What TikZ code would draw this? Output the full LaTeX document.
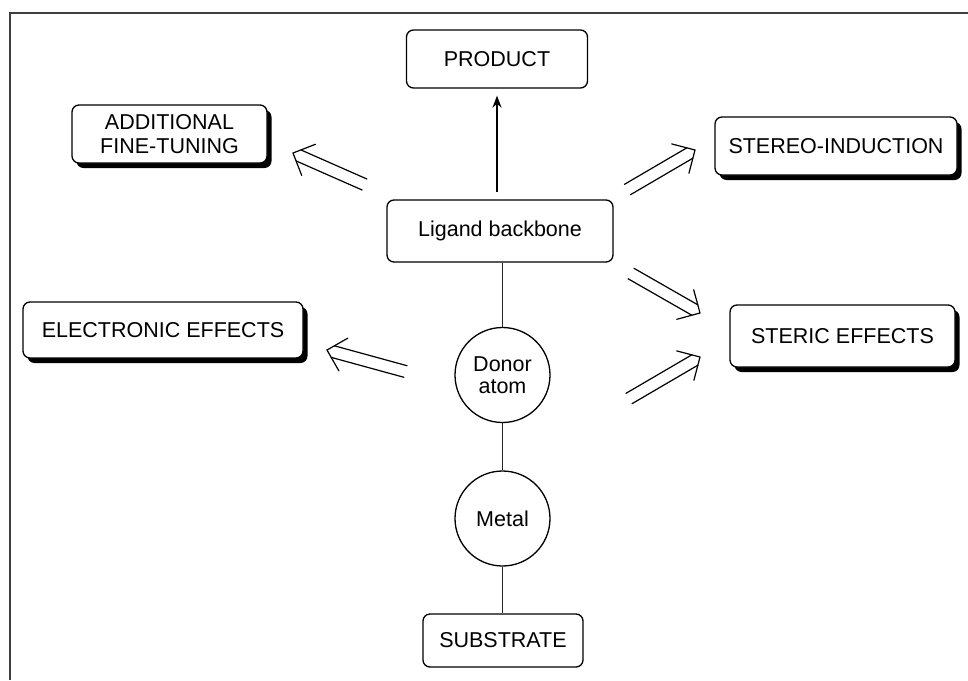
\documentclass[tikz,border=0pt]{standalone}
\usepackage{fontspec}
\setmainfont{Liberation Sans}
\usetikzlibrary{calc,shadows,arrows.meta}
\newcommand\dblarr[2]{%
  \coordinate (da-h) at ($(#2)!6pt!(#1)$);
  \coordinate (da-b) at ($(#2)!17pt!(#1)$);
  \draw[conn] ($(#1)!6pt!90:(#2)$) -- ($(da-h)!6pt!-90:(#1)$);
  \draw[conn] ($(#1)!6pt!-90:(#2)$) -- ($(da-h)!6pt!90:(#1)$);
  \draw[conn] ($(da-b)!17pt!90:(#2)$) -- (#2) -- ($(da-b)!17pt!-90:(#2)$);
}
\begin{document}
\begin{tikzpicture}[x=1pt,y=-1pt,
  every node/.style={font=\fontsize{21.5}{24}\selectfont, text=black},
  box/.style={draw, rounded corners=7pt, line width=1.3pt, fill=white, align=center, inner sep=0pt},
  sbox/.style={box, general shadow={fill=black, shadow xshift=4.5pt, shadow yshift=-5pt}},
  atom/.style={draw, circle, line width=1.3pt, fill=white, align=center, inner sep=0pt, minimum size=95pt},
  conn/.style={line width=1.2pt, line cap=round, line join=miter},
  vline/.style={line width=1.2pt, black!85}
]
\useasboundingbox (0,0) rectangle (968,680);
\draw[line width=2pt, black!75] (9.5,680) -- (9.5,13) -- (968,13);

\node[box, minimum width=181pt, minimum height=58pt] (prod) at (497,59) {PRODUCT};
\node[sbox, minimum width=195pt, minimum height=58pt] (add) at (169.5,134) {ADDITIONAL\\FINE-TUNING};
\node[sbox, minimum width=242pt, minimum height=58pt] (ster) at (836,146) {STEREO-INDUCTION};
\node[box, minimum width=226pt, minimum height=62pt] (lig) at (500,231) {Ligand backbone};
\node[sbox, minimum width=280pt, minimum height=56pt] (elec) at (163,330) {ELECTRONIC EFFECTS};
\node[sbox, minimum width=225pt, minimum height=62pt] (steric) at (842.5,336) {STERIC EFFECTS};
\node[atom, font=\fontsize{21.5}{22.5}\selectfont] (don) at (502.5,375) {Donor\\atom};
\node[atom] (met) at (502.5,518.5) {Metal};
\node[box, minimum width=160pt, minimum height=53pt] (sub) at (503,640.5) {SUBSTRATE};

\draw[vline] (lig.south -| don.north) -- (don.north);
\draw[vline] (don.south) -- (met.north);
\draw[vline] (met.south) -- (sub.north -| met.south);
\draw[line width=1.9pt, -{Stealth[length=12pt,width=9pt]}]
  ($(lig.north -| prod.south)+(0,-7)$) -- ($(prod.south)+(0,7)$);

\coordinate (t1) at (364.5,184.5); \coordinate (p1) at (293,153);
\coordinate (t2) at (627.5,189.5); \coordinate (p2) at (695,150);
\coordinate (t3) at (405.5,371.5); \coordinate (p3) at (327,350);
\coordinate (t4) at (631,273.5);   \coordinate (p4) at (700,313);
\coordinate (t5) at (629,398.5);   \coordinate (p5) at (700,357);
\dblarr{t1}{p1}
\dblarr{t2}{p2}
\dblarr{t3}{p3}
\dblarr{t4}{p4}
\dblarr{t5}{p5}
\end{tikzpicture}
\end{document}
